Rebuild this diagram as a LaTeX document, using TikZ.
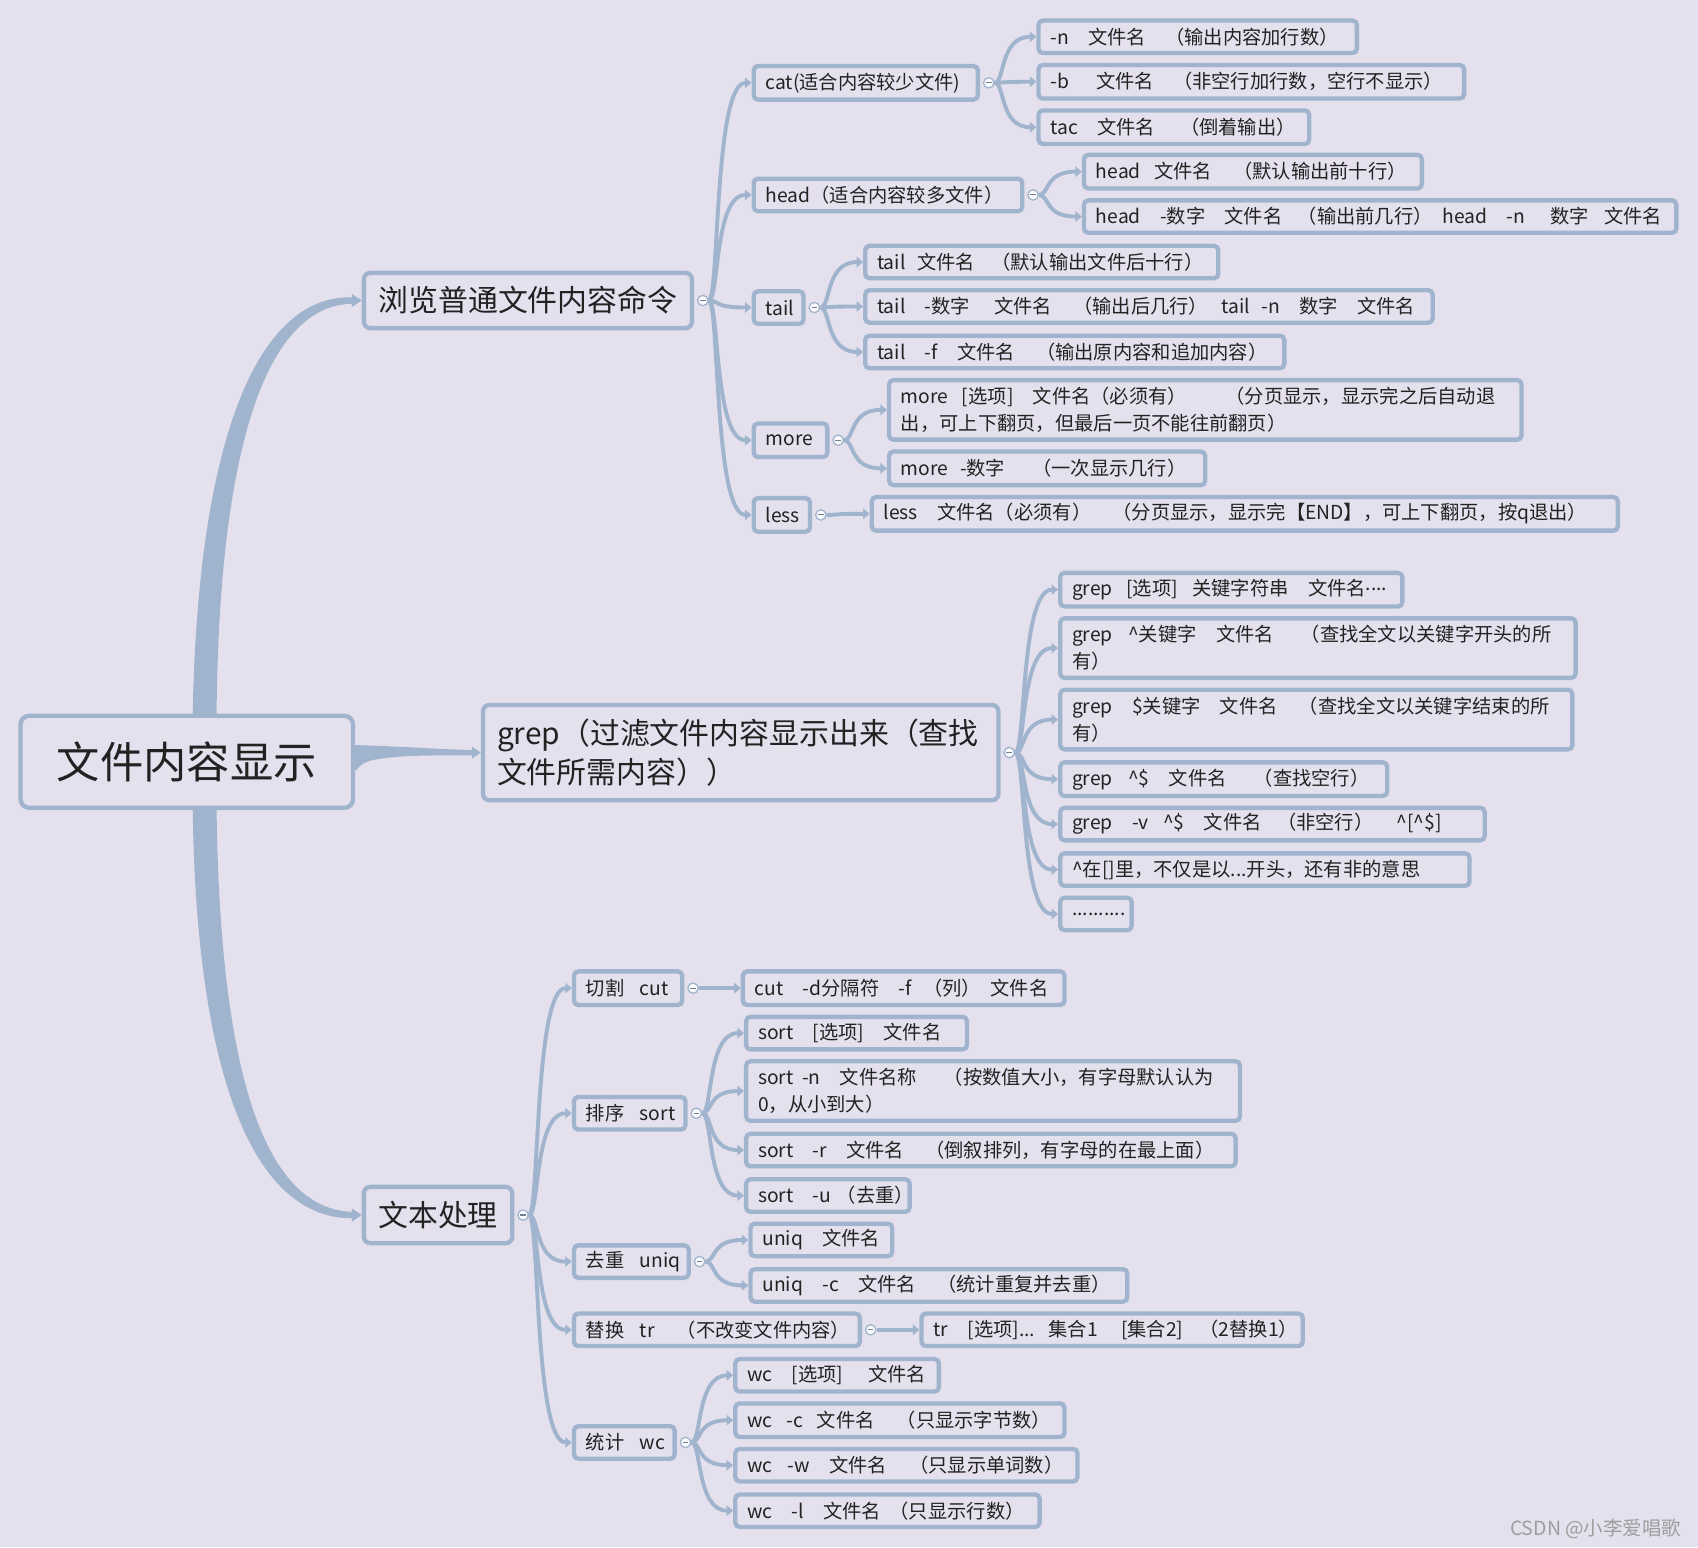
\documentclass[tikz,border=0pt]{standalone}
\usepackage{fontspec}
\setmainfont{Noto Sans CJK SC}
\usetikzlibrary{calc,arrows.meta}
\definecolor{bgc}{RGB}{229,224,237}
\definecolor{lnc}{RGB}{160,181,205}
\definecolor{txc}{RGB}{34,34,34}
\newcommand\hgap[1]{\hspace{#1em}}
\pgfdeclarelayer{back}\pgfdeclarelayer{links}\pgfsetlayers{back,links,main}
\tikzset{
  basebox/.style={draw=lnc, line width=2pt, fill=bgc, text=txc, rounded corners=2pt},
  leaf/.style={basebox, inner xsep=5.5pt, inner ysep=0pt, align=left, font=\fontsize{8.9pt}{12.5pt}\selectfont},
  rootbox/.style={basebox, rounded corners=4pt, font=\fontsize{20pt}{24pt}\selectfont, inner sep=0pt},
  midbox/.style={basebox, rounded corners=3pt, font=\fontsize{13.8pt}{18pt}\selectfont, inner sep=0pt},
  marker/.style={circle, draw=lnc, line width=0.6pt, fill=white!85!bgc, minimum size=4.8pt, inner sep=0pt,
    path picture={\draw[line width=0.5pt, lnc!70!black] ([xshift=-1.3pt]path picture bounding box.center) -- ([xshift=1.3pt]path picture bounding box.center);}},
  conn/.style={draw=lnc, line width=1.8pt, -{Triangle[length=3pt,width=4.8pt]}},
  trunkfill/.style={fill=lnc},
}
\newcommand\bx[6]{%
  \pgfmathsetmacro\bxh{(#5-#3)*0.5-2}%
  \pgfmathsetmacro\bxt{(#4-#2)*0.5-2-11}%
  \node[leaf, minimum height=\bxh pt, text width=\bxt pt, anchor=north west] (#1) at (#2,#3) {\mbox{#6}};}
\newcommand\bxm[6]{%
  \pgfmathsetmacro\bxh{(#5-#3)*0.5-2}%
  \pgfmathsetmacro\bxt{(#4-#2)*0.5-2-11}%
  \node[leaf, minimum height=\bxh pt, text width=\bxt pt, anchor=north west] (#1) at (#2,#3) {#6};}
\newcommand\br[2]{\draw[conn] let \p1=(#1.east), \p2=(#2.west) in (\p1) .. controls (0.75*\x1+0.25*\x2,\y1) and (0.88*\x1+0.12*\x2,\y2) .. (\p2);}
\newcommand\mk[2]{\node[marker] (#1) at ($(#2.east)+(8,0)$) {};}
\begin{document}
\begin{tikzpicture}[x=0.5pt,y=-0.5pt]
\useasboundingbox (0,0) rectangle (1568,1429);
\begin{pgfonlayer}{back}
\fill[bgc] (0,0) rectangle (1568,1429);
\end{pgfonlayer}

% root and level 1
\node[rootbox, minimum width=153.5pt, minimum height=42.5pt, anchor=north west] (root) at (17,659) {文件内容显示};
\node[midbox, minimum width=151.5pt, minimum height=25.5pt, anchor=north west] (b1) at (334,250) {浏览普通文件内容命令};
\node[midbox, text width=225pt, align=left, inner xsep=6.5pt, minimum height=44pt, anchor=north west] (b2) at (444,649) {grep（过滤文件内容显示出来（查找\\文件所需内容））};
\node[midbox, minimum width=68.5pt, minimum height=26pt, anchor=north west] (b3) at (334,1094) {文本处理};

% level 2 under b1
\bx{cat}{694}{59}{905}{94}{cat(适合内容较少文件)}
\bx{head}{694}{163}{946}{197}{head（适合内容较多文件）}
\bx{tail}{694}{267}{744}{301}{tail}
\bx{more}{694}{389}{766}{424}{more}
\bx{less}{694}{458}{750}{493}{less}

\bx{cat1}{957}{17}{1255}{51}{-n\hgap{1}文件名\hgap{1}（输出内容加行数）}
\bx{cat2}{957}{58}{1354}{93}{-b\hgap{1.4}文件名\hgap{1}（非空行加行数，空行不显示）}
\bx{cat3}{957}{100}{1211}{135}{tac\hgap{1}文件名\hgap{1.3}（倒着输出）}
\bx{head1}{999}{141}{1315}{176}{head\hgap{.7}文件名\hgap{1.1}（默认输出前十行）}
\bx{head2}{999}{183}{1550}{217}{head\hgap{1}-数字\hgap{1}文件名\hgap{.8}（输出前几行）\hgap{.5}head\hgap{1}-n\hgap{1.3}数字\hgap{.8}文件名}
\bx{tail1}{797}{225}{1127}{259}{tail\hgap{.6}文件名\hgap{.85}（默认输出文件后十行）}
\bx{tail2}{797}{266}{1325}{300}{tail\hgap{1}-数字\hgap{1.25}文件名\hgap{1.1}（输出后几行）\hgap{.7}tail\hgap{.6}-n\hgap{1}数字\hgap{1}文件名}
\bx{tail3}{797}{308}{1188}{342}{tail\hgap{1}-f\hgap{1}文件名\hgap{1.1}（输出原内容和追加内容）}
\bxm{more1}{819}{349}{1407}{408}{more\hgap{.7}[选项]\hgap{1}文件名（必须有）\hgap{2}（分页显示，显示完之后自动退\\出，可上下翻页，但最后一页不能往前翻页）}
\bx{more2}{819}{415}{1115}{450}{more\hgap{.6}-数字\hgap{1.4}（一次显示几行）}
\bx{less1}{803}{457}{1496}{492}{less\hgap{1}文件名（必须有）\hgap{1.1}（分页显示，显示完【END】，可上下翻页，按q退出）}

% grep children
\bx{g1}{977}{527}{1297}{562}{grep\hgap{.7}[选项]\hgap{.75}关键字符串\hgap{1}文件名\raisebox{.28em}{....}}
\bxm{g2}{977}{569}{1457}{628}{grep\hgap{.8}\textasciicircum 关键字\hgap{1}文件名\hgap{1.4}（查找全文以关键字开头的所\\有）}
\bxm{g3}{977}{635}{1454}{694}{grep\hgap{1}\$关键字\hgap{1}文件名\hgap{1.1}（查找全文以关键字结束的所\\有）}
\bx{g4}{977}{702}{1283}{737}{grep\hgap{.8}\textasciicircum\$\hgap{1}文件名\hgap{1.4}（查找空行）}
\bx{g5}{977}{744}{1373}{778}{grep\hgap{1}-v\hgap{.75}\textasciicircum\$\hgap{1}文件名\hgap{.8}（非空行）\hgap{1.2}\textasciicircum[\textasciicircum\$]}
\bx{g6}{977}{786}{1359}{820}{\textasciicircum 在[]里，不仅是以...开头，还有非的意思}
\bx{g7}{977}{827}{1047}{861}{..........}

% text processing children
\bx{cut}{528}{895}{632}{930}{切割\hgap{.8}cut}
\bx{sort}{528}{1011}{635}{1045}{排序\hgap{.8}sort}
\bx{uniq}{528}{1148}{638}{1182}{去重\hgap{.8}uniq}
\bx{tr}{528}{1211}{796}{1245}{替换\hgap{.8}tr\hgap{1.15}（不改变文件内容）}
\bx{wc}{528}{1315}{625}{1349}{统计\hgap{.8}wc}
\bx{cut1}{684}{895}{985}{930}{cut\hgap{1}-d分隔符\hgap{1}-f\hgap{.6}（列）\hgap{.5}文件名}
\bx{sort1}{687}{937}{895}{971}{sort\hgap{1}[选项]\hgap{1}文件名}
\bxm{sort2}{687}{978}{1147}{1037}{sort\hgap{.45}-n\hgap{1}文件名称\hgap{1.4}（按数值大小，有字母默认认为\\0，从小到大）}
\bx{sort3}{687}{1045}{1143}{1079}{sort\hgap{1}-r\hgap{1}文件名\hgap{1.1}（倒叙排列，有字母的在最上面）}
\bx{sort4}{687}{1087}{842}{1121}{sort\hgap{1}-u\hgap{.3}（去重）}
\bx{uniq1}{691}{1128}{826}{1162}{uniq\hgap{1}文件名}
\bx{uniq2}{691}{1170}{1043}{1204}{uniq\hgap{1}-c\hgap{1}文件名\hgap{1.1}（统计重复并去重）}
\bx{tr1}{849}{1211}{1205}{1245}{tr\hgap{1}[选项]...\hgap{.7}集合1\hgap{1.2}[集合2]\hgap{.85}（2替换1）}
\bx{wc1}{677}{1253}{869}{1287}{wc\hgap{1}[选项]\hgap{1.3}文件名}
\bx{wc2}{677}{1294}{985}{1329}{wc\hgap{.75}-c\hgap{.7}文件名\hgap{1.15}（只显示字节数）}
\bx{wc3}{677}{1336}{997}{1370}{wc\hgap{.8}-w\hgap{1}文件名\hgap{1.15}（只显示单词数）}
\bx{wc4}{677}{1378}{962}{1412}{wc\hgap{1}-l\hgap{1}文件名\hgap{.45}（只显示行数）}

% watermark
\node[anchor=east, text=black!38, font=\fontsize{9pt}{10pt}\selectfont, inner sep=0pt] (wm) at (1553,1412) {CSDN @小李爱唱歌};

% markers
\mk{m-b1}{b1}\mk{m-b2}{b2}\mk{m-b3}{b3}
\mk{m-cat}{cat}\mk{m-head}{head}\mk{m-tail}{tail}\mk{m-more}{more}\mk{m-less}{less}
\mk{m-cut}{cut}\mk{m-sort}{sort}\mk{m-uniq}{uniq}\mk{m-tr}{tr}\mk{m-wc}{wc}

\begin{pgfonlayer}{links}
% tapered root branches
\fill[trunkfill] ($(root.north)+(5.5,40)$) -- ($(root.north)+(5.5,0)$) .. controls ($(root.north)+(9.5,-231)$) and ($(b1.west)+(-104,-5)$) .. ($(b1.west)+(-9,-3)$) -- ($(b1.west)+(-9,3)$) .. controls ($(b1.west)+(-94,5)$) and ($(root.north)+(29.5,-227)$) .. ($(root.north)+(27.5,0)$) -- ($(root.north)+(27.5,40)$) -- cycle;
\fill[trunkfill] ($(b1.west)+(-9,-6)$) -- (b1.west) -- ($(b1.west)+(-9,6)$) -- cycle;
\fill[trunkfill] ($(root.south)+(5.5,-40)$) -- ($(root.south)+(5.5,0)$) .. controls ($(root.south)+(8.5,234)$) and ($(b3.west)+(-104,3)$) .. ($(b3.west)+(-9,3)$) -- ($(b3.west)+(-9,-3)$) .. controls ($(b3.west)+(-94,-6)$) and ($(root.south)+(30.5,230)$) .. ($(root.south)+(27.5,0)$) -- ($(root.south)+(27.5,-40)$) -- cycle;
\fill[trunkfill] ($(b3.west)+(-9,-6)$) -- (b3.west) -- ($(b3.west)+(-9,6)$) -- cycle;
\fill[trunkfill] ($(root.east)+(-10,-16)$) -- ($(root.east)+(0,-15.5)$) .. controls ($(root.east)+(50,-14)$) and ($(b2.west)+(-30,-2.5)$) .. ($(b2.west)+(-8,-2.5)$) -- ($(b2.west)+(-8,2.5)$) .. controls ($(b2.west)+(-50,2.5)$) and ($(root.east)+(40,-6)$) .. ($(root.east)+(18,-2)$) .. controls ($(root.east)+(8,0)$) and ($(root.east)+(3,4)$) .. ($(root.east)+(1,8)$) -- ($(root.east)+(-10,8)$) -- cycle;
\fill[trunkfill] ($(b2.west)+(-8,-5.5)$) -- (b2.west) -- ($(b2.west)+(-8,5.5)$) -- cycle;
% branches
\br{m-b1}{cat}\br{m-b1}{head}\br{m-b1}{tail}\br{m-b1}{more}\br{m-b1}{less}
\br{m-cat}{cat1}\br{m-cat}{cat2}\br{m-cat}{cat3}
\br{m-head}{head1}\br{m-head}{head2}
\br{m-tail}{tail1}\br{m-tail}{tail2}\br{m-tail}{tail3}
\br{m-more}{more1}\br{m-more}{more2}
\br{m-less}{less1}
\br{m-b2}{g1}\br{m-b2}{g2}\br{m-b2}{g3}\br{m-b2}{g4}\br{m-b2}{g5}\br{m-b2}{g6}\br{m-b2}{g7}
\br{m-b3}{cut}\br{m-b3}{sort}\br{m-b3}{uniq}\br{m-b3}{tr}\br{m-b3}{wc}
\br{m-cut}{cut1}
\br{m-sort}{sort1}\br{m-sort}{sort2}\br{m-sort}{sort3}\br{m-sort}{sort4}
\br{m-uniq}{uniq1}\br{m-uniq}{uniq2}
\br{m-tr}{tr1}
\br{m-wc}{wc1}\br{m-wc}{wc2}\br{m-wc}{wc3}\br{m-wc}{wc4}
\end{pgfonlayer}
\end{tikzpicture}
\end{document}
